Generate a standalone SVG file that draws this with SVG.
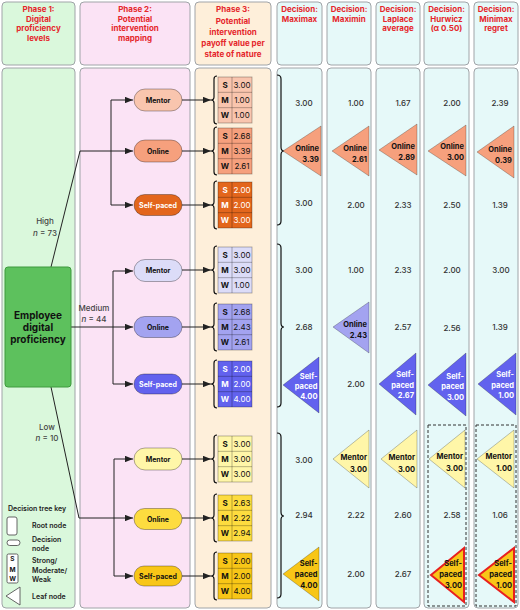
<svg xmlns="http://www.w3.org/2000/svg" width="520" height="610" viewBox="0 0 520 610">
<defs>
<marker id="ah" viewBox="0 0 10 8" refX="10" refY="4" markerWidth="8" markerHeight="6.4" markerUnits="userSpaceOnUse" orient="auto"><path d="M0 0L10 4L0 8z" fill="#222"/></marker>
<style>
text{font-family:Inter,"Liberation Sans",Arial,sans-serif}
.col{stroke:#A0A4A8;stroke-width:1}
.p1{fill:#DAF8DC}.p2{fill:#FBE3F5}.p3{fill:#FEEFDA}.dc{fill:#E6F9F9}
.hd{font-size:8px;font-weight:700;fill:#E5262B;text-anchor:middle}
.conn{fill:none;stroke:#222;stroke-width:1}
.arr{marker-end:url(#ah)}
.brace{fill:none;stroke:#111;stroke-width:1.2}
.pill rect{stroke:rgba(0,0,0,0.4);stroke-width:0.8}
.pill text{font-size:7px;font-weight:700;text-anchor:middle;fill:#111}
.tbl rect{stroke:rgba(0,0,0,0.35);stroke-width:0.8}
.tbl path.g{fill:none;stroke:rgba(0,0,0,0.35);stroke-width:0.8}
.tbl text{font-size:8px;text-anchor:middle;fill:#111}
.tbl text.k{font-weight:700}
.wt text,.wt text.k{fill:#fff}
.pill.wt text{fill:#fff}
.hm{fill:#F9C5AE}.ho{fill:#F6A07D}.hs{fill:#E3661C}
.mm{fill:#DCDCF8}.mo{fill:#A3A3F0}.ms{fill:#6262EE}
.lm{fill:#FFF6A8}.lo{fill:#FDDC3F}.ls{fill:#F8C617}
.v{font-size:8px;font-weight:500;fill:#333;text-anchor:middle}
.leaf polygon{stroke:rgba(0,0,0,0.3);stroke-width:0.8}
.leaf text{font-size:7.5px;font-weight:700;text-anchor:end;fill:#111}
.leaf.wt text{fill:#fff}
.leaf polygon.sel{stroke:#E8201E;stroke-width:2}
.lbl{font-size:8px;font-weight:500;fill:#444;text-anchor:middle}
.key{font-size:7px;font-weight:600;fill:#222}
.kicon{fill:#fff;stroke:#555;stroke-width:0.9}
</style>
</defs>

<!-- column backgrounds -->
<g id="columns">
<rect class="col p1" x="2" y="2" width="73" height="63" rx="4"/>
<rect class="col p2" x="80" y="2" width="110" height="63" rx="4"/>
<rect class="col p3" x="195" y="2" width="76" height="63" rx="4"/>
<rect class="col dc" x="277" y="2" width="45" height="63" rx="4"/>
<rect class="col dc" x="327" y="2" width="44" height="63" rx="4"/>
<rect class="col dc" x="376" y="2" width="44" height="63" rx="4"/>
<rect class="col dc" x="424" y="2" width="45" height="63" rx="4"/>
<rect class="col dc" x="474" y="2" width="44" height="63" rx="4"/>
<rect class="col p1" x="2" y="68" width="73" height="540" rx="4"/>
<rect class="col p2" x="80" y="68" width="110" height="540" rx="4"/>
<rect class="col p3" x="195" y="68" width="76" height="540" rx="4"/>
<rect class="col dc" x="277" y="68" width="45" height="540" rx="4"/>
<rect class="col dc" x="327" y="68" width="44" height="540" rx="4"/>
<rect class="col dc" x="376" y="68" width="44" height="540" rx="4"/>
<rect class="col dc" x="424" y="68" width="45" height="540" rx="4"/>
<rect class="col dc" x="474" y="68" width="44" height="540" rx="4"/>
</g>

<g id="headers">
<text class="hd" x="38.5" y="12.3">Phase 1:</text>
<text class="hd" x="38.5" y="22">Digital</text>
<text class="hd" x="38.5" y="31.3">proficiency</text>
<text class="hd" x="38.5" y="40.7">levels</text>
<text class="hd" x="135" y="12.3">Phase 2:</text>
<text class="hd" x="135" y="22">Potential</text>
<text class="hd" x="135" y="31.3">intervention</text>
<text class="hd" x="135" y="40.7">mapping</text>
<text class="hd" x="233" y="12.3">Phase 3:</text>
<text class="hd" x="233" y="23.7">Potential</text>
<text class="hd" x="233" y="35.2">intervention</text>
<text class="hd" x="233" y="46.3">payoff value per</text>
<text class="hd" x="233" y="57.4">state of nature</text>
<text class="hd" x="299.5" y="12">Decision:</text>
<text class="hd" x="299.5" y="21.5">Maximax</text>
<text class="hd" x="349" y="12">Decision:</text>
<text class="hd" x="349" y="21.5">Maximin</text>
<text class="hd" x="398" y="12">Decision:</text>
<text class="hd" x="398" y="21.5">Laplace</text>
<text class="hd" x="398" y="31">average</text>
<text class="hd" x="446.5" y="12">Decision:</text>
<text class="hd" x="446.5" y="21.5">Hurwicz</text>
<text class="hd" x="446.5" y="31">(α 0.50)</text>
<text class="hd" x="496" y="12">Decision:</text>
<text class="hd" x="496" y="21.5">Minimax</text>
<text class="hd" x="496" y="31">regret</text>
</g>

<!-- connectors -->
<g id="connectors">
<path class="conn arr" d="M51 267L80 151H133"/>
<path class="conn arr" d="M111 151V100H133"/>
<path class="conn arr" d="M111 151V205H133"/>
<path class="conn arr" d="M71 327H133"/>
<path class="conn arr" d="M113 327V271H133"/>
<path class="conn arr" d="M113 327V384H133"/>
<path class="conn arr" d="M51 387L79 518H133"/>
<path class="conn arr" d="M114 518V459H133"/>
<path class="conn arr" d="M114 518V576H133"/>
<path class="conn arr" d="M182 100H211"/>
<path class="conn arr" d="M182 151H211"/>
<path class="conn arr" d="M182 205H211"/>
<path class="conn arr" d="M182 270H211"/>
<path class="conn arr" d="M182 327H211"/>
<path class="conn arr" d="M182 384H211"/>
<path class="conn arr" d="M182 459H211"/>
<path class="conn arr" d="M182 518H211"/>
<path class="conn arr" d="M182 576H211"/>
<path class="brace" d="M277 75Q281 75 281 79V147Q281 151 284 151Q281 151 281 155V221Q281 225 277 225"/>
<path class="brace" d="M277 244Q281 244 281 248V323Q281 327 284 327Q281 327 281 331V403Q281 407 277 407"/>
<path class="brace" d="M277 433Q281 433 281 437V512Q281 516 284 516Q281 516 281 520V594Q281 598 277 598"/>
</g>

<!-- branch labels -->
<g id="branch-labels">
<text class="lbl" x="45" y="224">High</text>
<text class="lbl" x="45" y="235.5"><tspan font-style="italic">n</tspan> = 73</text>
<text class="lbl" x="94" y="311">Medium</text>
<text class="lbl" x="94" y="322"><tspan font-style="italic">n</tspan> = 44</text>
<text class="lbl" x="47" y="430">Low</text>
<text class="lbl" x="47" y="441"><tspan font-style="italic">n</tspan> = 10</text>
</g>

<g id="root">
<rect x="5" y="267" width="66" height="120" rx="3" fill="#5DC15D" stroke="#3E9A3E" stroke-width="1"/>
<text x="38" y="319" font-size="10" font-weight="700" text-anchor="middle" fill="#111">Employee</text>
<text x="38" y="331" font-size="10" font-weight="700" text-anchor="middle" fill="#111">digital</text>
<text x="38" y="342.5" font-size="10" font-weight="700" text-anchor="middle" fill="#111">proficiency</text>
</g>

<!-- decision pills -->
<g id="pill-high-mentor" class="pill" transform="translate(0,100)"><rect class="hm" x="134" y="-11" width="48" height="22" rx="11"/><text x="158" y="2.5">Mentor</text></g>
<g id="pill-high-online" class="pill" transform="translate(0,151)"><rect class="ho" x="134" y="-11" width="48" height="22" rx="11"/><text x="158" y="2.5">Online</text></g>
<g id="pill-high-self" class="pill wt" transform="translate(0,205)"><rect class="hs" x="134" y="-10.5" width="48" height="21" rx="10.5"/><text x="158" y="2.5">Self-paced</text></g>
<g id="pill-med-mentor" class="pill" transform="translate(0,270.5)"><rect class="mm" x="134" y="-11" width="48" height="22" rx="11"/><text x="158" y="2.5">Mentor</text></g>
<g id="pill-med-online" class="pill" transform="translate(0,327)"><rect class="mo" x="134" y="-10.5" width="48" height="21" rx="10.5"/><text x="158" y="2.5">Online</text></g>
<g id="pill-med-self" class="pill wt" transform="translate(0,384)"><rect class="ms" x="134" y="-10" width="48" height="20" rx="10"/><text x="158" y="2.5">Self-paced</text></g>
<g id="pill-low-mentor" class="pill" transform="translate(0,459)"><rect class="lm" x="134" y="-11" width="48" height="22" rx="11"/><text x="158" y="2.5">Mentor</text></g>
<g id="pill-low-online" class="pill" transform="translate(0,519)"><rect class="lo" x="134" y="-10.5" width="48" height="21" rx="10.5"/><text x="158" y="2.5">Online</text></g>
<g id="pill-low-self" class="pill" transform="translate(0,576)"><rect class="ls" x="134" y="-10" width="48" height="20" rx="10"/><text x="158" y="2.5">Self-paced</text></g>

<!-- payoff tables -->
<g id="tbl-high-mentor" class="tbl" transform="translate(0,100)">
<path class="brace" d="M217 -24Q214 -24 214 -21V-3Q214 0 211 0Q214 0 214 3V21Q214 24 217 24"/>
<rect class="hm" x="218" y="-23" width="34" height="46"/><path class="g" d="M232 -23V23M218 -7.67H252M218 7.67H252"/>
<text class="k" x="225" y="-12.3">S</text><text x="242" y="-12.3">3.00</text>
<text class="k" x="225" y="3">M</text><text x="242" y="3">1.00</text>
<text class="k" x="225" y="18.3">W</text><text x="242" y="18.3">1.00</text>
</g>
<g id="tbl-high-online" class="tbl" transform="translate(0,151)">
<path class="brace" d="M217 -24Q214 -24 214 -21V-3Q214 0 211 0Q214 0 214 3V21Q214 24 217 24"/>
<rect class="ho" x="218" y="-23" width="34" height="46"/><path class="g" d="M232 -23V23M218 -7.67H252M218 7.67H252"/>
<text class="k" x="225" y="-12.3">S</text><text x="242" y="-12.3">2.68</text>
<text class="k" x="225" y="3">M</text><text x="242" y="3">3.39</text>
<text class="k" x="225" y="18.3">W</text><text x="242" y="18.3">2.61</text>
</g>
<g id="tbl-high-self" class="tbl wt" transform="translate(0,205)">
<path class="brace" d="M217 -24Q214 -24 214 -21V-3Q214 0 211 0Q214 0 214 3V21Q214 24 217 24"/>
<rect class="hs" x="218" y="-23" width="34" height="46"/><path class="g" d="M232 -23V23M218 -7.67H252M218 7.67H252"/>
<text class="k" x="225" y="-12.3">S</text><text x="242" y="-12.3">2.00</text>
<text class="k" x="225" y="3">M</text><text x="242" y="3">2.00</text>
<text class="k" x="225" y="18.3">W</text><text x="242" y="18.3">3.00</text>
</g>
<g id="tbl-med-mentor" class="tbl" transform="translate(0,270)">
<path class="brace" d="M217 -24Q214 -24 214 -21V-3Q214 0 211 0Q214 0 214 3V21Q214 24 217 24"/>
<rect class="mm" x="218" y="-23" width="34" height="46"/><path class="g" d="M232 -23V23M218 -7.67H252M218 7.67H252"/>
<text class="k" x="225" y="-12.3">S</text><text x="242" y="-12.3">3.00</text>
<text class="k" x="225" y="3">M</text><text x="242" y="3">3.00</text>
<text class="k" x="225" y="18.3">W</text><text x="242" y="18.3">1.00</text>
</g>
<g id="tbl-med-online" class="tbl" transform="translate(0,327)">
<path class="brace" d="M217 -24Q214 -24 214 -21V-3Q214 0 211 0Q214 0 214 3V21Q214 24 217 24"/>
<rect class="mo" x="218" y="-23" width="34" height="46"/><path class="g" d="M232 -23V23M218 -7.67H252M218 7.67H252"/>
<text class="k" x="225" y="-12.3">S</text><text x="242" y="-12.3">2.68</text>
<text class="k" x="225" y="3">M</text><text x="242" y="3">2.43</text>
<text class="k" x="225" y="18.3">W</text><text x="242" y="18.3">2.61</text>
</g>
<g id="tbl-med-self" class="tbl wt" transform="translate(0,384)">
<path class="brace" d="M217 -24Q214 -24 214 -21V-3Q214 0 211 0Q214 0 214 3V21Q214 24 217 24"/>
<rect class="ms" x="218" y="-23" width="34" height="46"/><path class="g" d="M232 -23V23M218 -7.67H252M218 7.67H252"/>
<text class="k" x="225" y="-12.3">S</text><text x="242" y="-12.3">2.00</text>
<text class="k" x="225" y="3">M</text><text x="242" y="3">2.00</text>
<text class="k" x="225" y="18.3">W</text><text x="242" y="18.3">4.00</text>
</g>
<g id="tbl-low-mentor" class="tbl" transform="translate(0,459)">
<path class="brace" d="M217 -24Q214 -24 214 -21V-3Q214 0 211 0Q214 0 214 3V21Q214 24 217 24"/>
<rect class="lm" x="218" y="-23" width="34" height="46"/><path class="g" d="M232 -23V23M218 -7.67H252M218 7.67H252"/>
<text class="k" x="225" y="-12.3">S</text><text x="242" y="-12.3">3.00</text>
<text class="k" x="225" y="3">M</text><text x="242" y="3">3.00</text>
<text class="k" x="225" y="18.3">W</text><text x="242" y="18.3">3.00</text>
</g>
<g id="tbl-low-online" class="tbl" transform="translate(0,518)">
<path class="brace" d="M217 -24Q214 -24 214 -21V-3Q214 0 211 0Q214 0 214 3V21Q214 24 217 24"/>
<rect class="lo" x="218" y="-23" width="34" height="46"/><path class="g" d="M232 -23V23M218 -7.67H252M218 7.67H252"/>
<text class="k" x="225" y="-12.3">S</text><text x="242" y="-12.3">2.63</text>
<text class="k" x="225" y="3">M</text><text x="242" y="3">2.22</text>
<text class="k" x="225" y="18.3">W</text><text x="242" y="18.3">2.94</text>
</g>
<g id="tbl-low-self" class="tbl" transform="translate(0,576)">
<path class="brace" d="M217 -24Q214 -24 214 -21V-3Q214 0 211 0Q214 0 214 3V21Q214 24 217 24"/>
<rect class="ls" x="218" y="-23" width="34" height="46"/><path class="g" d="M232 -23V23M218 -7.67H252M218 7.67H252"/>
<text class="k" x="225" y="-12.3">S</text><text x="242" y="-12.3">2.00</text>
<text class="k" x="225" y="3">M</text><text x="242" y="3">2.00</text>
<text class="k" x="225" y="18.3">W</text><text x="242" y="18.3">4.00</text>
</g>

<!-- decision values -->
<g id="values">
<text class="v" x="304" y="105.5">3.00</text><text class="v" x="356" y="105.5">1.00</text><text class="v" x="403" y="105.5">1.67</text><text class="v" x="452" y="105.5">2.00</text><text class="v" x="500" y="105.5">2.39</text>
<text class="v" x="304" y="206">3.00</text><text class="v" x="356" y="208">2.00</text><text class="v" x="403" y="208">2.33</text><text class="v" x="452" y="208">2.50</text><text class="v" x="500" y="208">1.39</text>
<text class="v" x="304" y="273">3.00</text><text class="v" x="356" y="273">1.00</text><text class="v" x="403" y="273">2.33</text><text class="v" x="452" y="273">2.00</text><text class="v" x="501" y="272.5">3.00</text>
<text class="v" x="304" y="330">2.68</text><text class="v" x="403" y="330">2.57</text><text class="v" x="452" y="330.5">2.56</text><text class="v" x="500" y="329.5">1.39</text>
<text class="v" x="356" y="387">2.00</text>
<text class="v" x="304" y="463">3.00</text>
<text class="v" x="304" y="518">2.94</text><text class="v" x="356" y="518">2.22</text><text class="v" x="403" y="518">2.60</text><text class="v" x="452" y="518">2.58</text><text class="v" x="500" y="518">1.06</text>
<text class="v" x="356" y="577">2.00</text><text class="v" x="403" y="577">2.67</text>
</g>

<!-- selection boxes -->
<g id="selections">
<rect x="428" y="425" width="38" height="181" fill="none" stroke="#333" stroke-width="1" stroke-dasharray="3 2"/>
<rect x="476" y="425" width="40" height="181" fill="none" stroke="#333" stroke-width="1" stroke-dasharray="3 2"/>
</g>

<!-- leaf nodes -->
<g id="leaf-maximax-high" class="leaf"><polygon class="ho" points="283,151 321,126 321,176"/><text x="319" y="151">Online</text><text x="319" y="162">3.39</text></g>
<g id="leaf-maximin-high" class="leaf"><polygon class="ho" points="332,151 369,126 369,176"/><text x="367" y="151">Online</text><text x="367" y="162">2.61</text></g>
<g id="leaf-laplace-high" class="leaf"><polygon class="ho" points="379,150 417,124 417,175"/><text x="415" y="149">Online</text><text x="415" y="160">2.89</text></g>
<g id="leaf-hurwicz-high" class="leaf"><polygon class="ho" points="428,151 466,125 466,176"/><text x="464" y="149">Online</text><text x="464" y="160">3.00</text></g>
<g id="leaf-minimax-high" class="leaf"><polygon class="ho" points="477,152 514,126 514,178"/><text x="512" y="152">Online</text><text x="512" y="163">0.39</text></g>

<g id="leaf-maximax-med" class="leaf wt"><polygon class="ms" points="283,385 319,357 319,413"/><text x="317.5" y="379">Self-</text><text x="317.5" y="389">paced</text><text x="317.5" y="399">4.00</text></g>
<g id="leaf-maximin-med" class="leaf"><polygon class="mo" points="333,327 369,302 369,353"/><text x="367" y="327">Online</text><text x="367" y="338">2.43</text></g>
<g id="leaf-laplace-med" class="leaf wt"><polygon class="ms" points="379,384 416,353 416,415"/><text x="414" y="377">Self-</text><text x="414" y="387.5">paced</text><text x="414" y="398">2.67</text></g>
<g id="leaf-hurwicz-med" class="leaf wt"><polygon class="ms" points="428,385 466,353 466,416"/><text x="464" y="378.5">Self-</text><text x="464" y="389">paced</text><text x="464" y="399.5">3.00</text></g>
<g id="leaf-minimax-med" class="leaf wt"><polygon class="ms" points="478,384 516,353 516,415"/><text x="514" y="377">Self-</text><text x="514" y="387.5">paced</text><text x="514" y="398">1.00</text></g>

<g id="leaf-maximax-low" class="leaf"><polygon class="ls" points="283,574 319,547 319,601"/><text x="317.5" y="566">Self-</text><text x="317.5" y="577">paced</text><text x="317.5" y="587.5">4.00</text></g>
<g id="leaf-maximin-low" class="leaf"><polygon class="lm" points="333,459 369,430 369,488"/><text x="367" y="460">Mentor</text><text x="367" y="472">3.00</text></g>
<g id="leaf-laplace-low" class="leaf"><polygon class="lm" points="381,459 417,430 417,488"/><text x="415" y="460">Mentor</text><text x="415" y="472">3.00</text></g>
<g id="leaf-hurwicz-low-mentor" class="leaf"><polygon class="lm" points="429,459 465,430 465,488"/><text x="463" y="459">Mentor</text><text x="463" y="471">3.00</text></g>
<g id="leaf-hurwicz-low-self" class="leaf"><polygon class="ls sel" points="431,575 464,548 464,602"/><text x="462" y="566">Self-</text><text x="462" y="577">paced</text><text x="462" y="587.5">3.00</text></g>
<g id="leaf-minimax-low-mentor" class="leaf"><polygon class="lm" points="477,459 514,430 514,488"/><text x="512" y="459">Mentor</text><text x="512" y="471">1.00</text></g>
<g id="leaf-minimax-low-self" class="leaf"><polygon class="ls sel" points="479,575 514,548 514,602"/><text x="512" y="566">Self-</text><text x="512" y="577">paced</text><text x="512" y="587.5">1.00</text></g>

<!-- key -->
<g id="key">
<text class="key" x="8" y="510.5" font-weight="700">Decision tree key</text>
<rect class="kicon" x="7" y="517" width="10" height="18" rx="2"/>
<text class="key" x="32" y="527.5">Root node</text>
<rect class="kicon" x="7" y="540" width="13" height="5.5" rx="2.75"/>
<text class="key" x="32" y="541.5">Decision</text>
<text class="key" x="32" y="551">node</text>
<rect class="kicon" x="7" y="554" width="11" height="29" rx="1.5"/>
<text x="12.5" y="561" font-size="6.5" font-weight="700" text-anchor="middle" fill="#111">S</text>
<text x="12.5" y="571.5" font-size="6.5" font-weight="700" text-anchor="middle" fill="#111">M</text>
<text x="12.5" y="581" font-size="6.5" font-weight="700" text-anchor="middle" fill="#111">W</text>
<text class="key" x="32" y="563">Strong/</text>
<text class="key" x="32" y="572.5">Moderate/</text>
<text class="key" x="32" y="582">Weak</text>
<polygon class="kicon" points="6,596 20,587 20,605"/>
<text class="key" x="32" y="598.5">Leaf node</text>
</g>
</svg>
